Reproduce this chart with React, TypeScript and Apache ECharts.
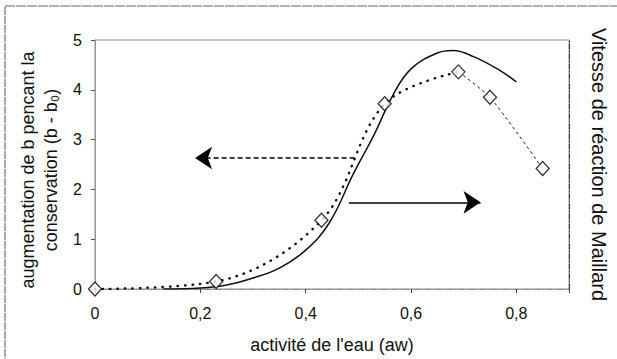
import React, { useEffect, useRef } from "react";
import * as echarts from "echarts";

// Diamonds: increase of b during storage vs water activity
const aw = [0, 0.23, 0.43, 0.55, 0.69, 0.75, 0.85];
const deltaB = [0, 0.15, 1.38, 3.72, 4.36, 3.85, 2.42];
// Solid curve: Maillard reaction rate (right axis, same visual scale)
const maillardAw = [0.13, 0.2, 0.25, 0.3, 0.35, 0.4, 0.445, 0.49, 0.53, 0.566, 0.6, 0.65, 0.68, 0.72, 0.77, 0.8];
const maillardRate = [0, 0.02, 0.08, 0.22, 0.42, 0.78, 1.33, 2.3, 3.1, 3.9, 4.42, 4.74, 4.79, 4.66, 4.38, 4.16];
// Tick labels
const yTickLabels = ["0", "1", "2", "3", "4", "5"];
const xTickLabels = ["0", "0,2", "0,4", "0,6", "0,8"];
// Annotation arrows [start, end] in data units
const arrowLeft = [[0.493, 2.63], [0.19, 2.63]];
const arrowRight = [[0.482, 1.74], [0.732, 1.74]];
const leftTitle = "augmentation de b pencant la\nconservation (b - b₀)";

const FONT = "Liberation Sans, Arial, sans-serif";

export default function App() {
  const ref = useRef<HTMLDivElement>(null);
  useEffect(() => {
    const chart = echarts.init(ref.current!, null, { renderer: "svg" });
    const pts = aw.map((x, i) => [x, deltaB[i]]);
    const solid = maillardAw.map((x, i) => [x, maillardRate[i]]);
    chart.setOption({
      animation: false,
      backgroundColor: "#fff",
      textStyle: { fontFamily: FONT },
      grid: { left: 95, top: 40, right: 34, bottom: 60, show: true, borderColor: "#888", borderWidth: 1 },
      graphic: [
        { type: "line", shape: { x1: 5, y1: 7, x2: 5, y2: 359 }, style: { stroke: "#555", lineWidth: 1, lineDash: [8, 1] } },
        { type: "line", shape: { x1: 5, y1: 6, x2: 617, y2: 6 }, style: { stroke: "#666", lineWidth: 1, lineDash: [10, 1] } },
        {
          type: "text",
          x: 39,
          y: 170,
          rotation: Math.PI / 2,
          style: {
            text: leftTitle,
            fontSize: 18,
            lineHeight: 23,
            fontFamily: FONT,
            fill: "#111",
            align: "center",
            verticalAlign: "middle",
          },
        },
      ],
      xAxis: {
        type: "value",
        min: 0,
        max: 0.9,
        interval: 0.2,
        name: "activité de l'eau (aw)",
        nameLocation: "middle",
        nameGap: 47,
        nameTextStyle: { fontSize: 18, color: "#111", fontFamily: FONT },
        axisLine: { show: true, lineStyle: { color: "#888", type: [6, 2, 1, 2] } },
        axisTick: { show: true, inside: false, length: 4, lineStyle: { color: "#444" } },
        splitLine: { show: false },
        axisLabel: {
          fontSize: 16,
          color: "#111",
          margin: 16,
          fontFamily: FONT,
          formatter: (v: number) => {
            const k = Math.round(v * 5);
            if (Math.abs(v * 5 - k) > 1e-6) return "";
            return xTickLabels[k] ?? "";
          },
        },
      },
      yAxis: [
        {
          type: "value",
          min: 0,
          max: 5,
          interval: 1,
          axisLine: { show: true, lineStyle: { color: "#999" } },
          axisTick: { show: true, inside: false, length: 4, lineStyle: { color: "#555" } },
          splitLine: { show: false },
          axisLabel: {
            fontSize: 16,
            color: "#111",
            margin: 13,
            fontFamily: FONT,
            formatter: (v: number) => yTickLabels[Math.round(v)] ?? "",
          },
        },
        {
          type: "value",
          min: 0,
          max: 5,
          interval: 1,
          position: "right",
          name: "Vitesse de réaction de Maillard",
          nameLocation: "middle",
          nameRotate: -90,
          nameGap: 20,
          nameTextStyle: { fontSize: 20, color: "#111", fontFamily: FONT },
          axisLine: { show: true, lineStyle: { color: "#333", type: [5, 2, 1, 2] } },
          axisTick: { show: false },
          axisLabel: { show: false },
          splitLine: { show: false },
        },
      ],
      series: [
        {
          name: "Maillard",
          type: "line",
          yAxisIndex: 1,
          data: solid,
          smooth: 0.4,
          showSymbol: false,
          lineStyle: { color: "#111", width: 1.5 },
          z: 3,
        },
        {
          name: "dotted",
          type: "line",
          data: pts.slice(0, 5),
          smooth: 0.35,
          showSymbol: false,
          lineStyle: { color: "#111", width: 2.4, type: [0.5, 7], cap: "round" },
          z: 3,
        },
        {
          name: "dashed",
          type: "line",
          data: pts.slice(4),
          smooth: 0.2,
          showSymbol: false,
          lineStyle: { color: "#222", width: 1, type: [3, 3] },
          z: 3,
        },
        {
          name: "diamonds",
          type: "scatter",
          data: pts,
          symbol: "diamond",
          symbolSize: [13, 14],
          itemStyle: { color: "#fff", borderColor: "#000", borderWidth: 1.3 },
          z: 5,
          markLine: {
            silent: true,
            animation: false,
            label: { show: false },
            symbolSize: 17,
            data: [
              [
                { coord: arrowLeft[0], symbol: "none", lineStyle: { type: [5, 3], color: "#000", width: 1.5 } },
                { coord: arrowLeft[1], symbol: "arrow" },
              ],
              [
                { coord: arrowRight[0], symbol: "none", lineStyle: { type: "solid", color: "#000", width: 1.5 } },
                { coord: arrowRight[1], symbol: "arrow" },
              ],
            ],
            lineStyle: { color: "#000", width: 1.5 },
          },
        },
      ],
    });
    return () => chart.dispose();
  }, []);
  return <div ref={ref} style={{ width: 617, height: 359, position: "absolute", left: 0, top: 0 }} />;
}
